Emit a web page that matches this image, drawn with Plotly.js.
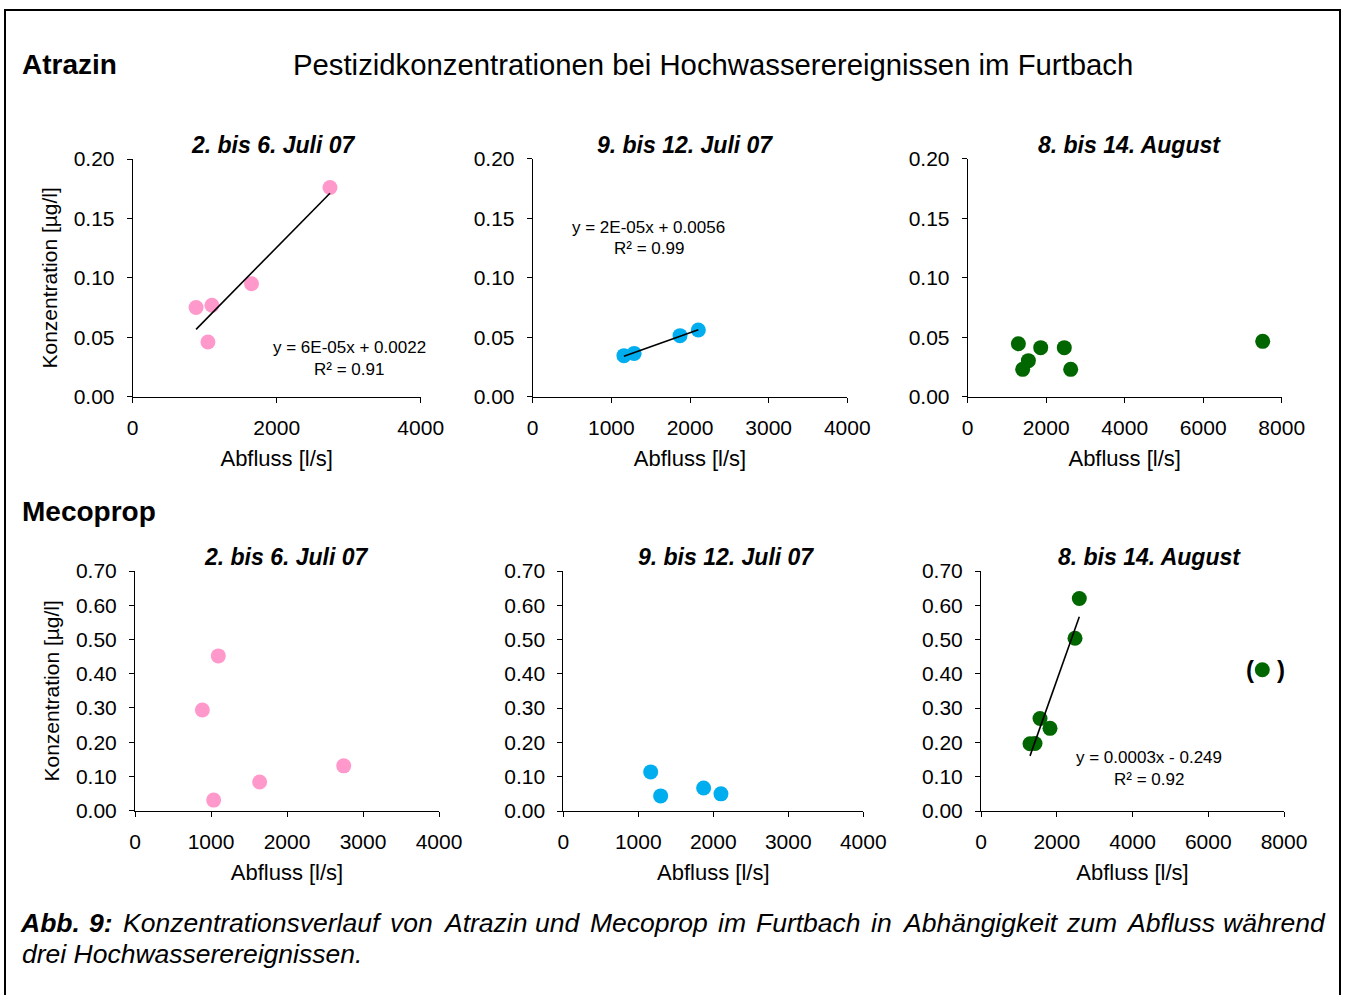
<!DOCTYPE html>
<html>
<head>
<meta charset="utf-8">
<script src="https://cdn.plot.ly/plotly-3.0.1.min.js"></script>
<style>html,body{margin:0;padding:0;background:#fff;}#chart{width:1347px;height:995px;}</style>
</head>
<body>
<div id="chart"></div>
<script>
// ---------- data ----------
const atrazinJul1Q = [880, 1100, 1045, 1650, 2740];
const atrazinJul1C = [0.075, 0.077, 0.046, 0.095, 0.176];
const atrazinJul2Q = [1160, 1290, 1873, 2106];
const atrazinJul2C = [0.0345, 0.0364, 0.0513, 0.056];
const atrazinAugQ = [1291, 1401, 1546, 1860, 2461, 2624, 7516];
const atrazinAugC = [0.0445, 0.023, 0.0303, 0.0412, 0.0412, 0.023, 0.0465];

const mecopropJul1Q = [886, 1096, 1035, 1640, 2746];
const mecopropJul1C = [0.294, 0.452, 0.031, 0.084, 0.131];
const mecopropJul2Q = [1165, 1298, 1871, 2102];
const mecopropJul2C = [0.114, 0.044, 0.067, 0.050];
const mecopropAugQ = [1294, 1426, 1558, 1822, 2482, 2596];
const mecopropAugC = [0.196, 0.197, 0.270, 0.241, 0.504, 0.620];
const mecopropAugOutlierQ = [7427];
const mecopropAugOutlierC = [0.412];

const eventTitles = ["2. bis 6. Juli 07", "9. bis 12. Juli 07", "8. bis 14. August"];
const substanceLabels = ["Atrazin", "Mecoprop"];
const mainTitle = "Pestizidkonzentrationen bei Hochwasserereignissen im Furtbach";
const xAxisTitle = "Abfluss [l/s]";
const yAxisTitle = "Konzentration [µg/l]";
const equations = {
  atrazinJul1: ["y = 6E-05x + 0.0022", "R² = 0.91"],
  atrazinJul2: ["y = 2E-05x + 0.0056", "R² = 0.99"],
  mecopropAug: ["y = 0.0003x - 0.249", "R² = 0.92"]
};
const captionWords1 = ["Abb.", "9:", "Konzentrationsverlauf", "von", "Atrazin", "und", "Mecoprop", "im", "Furtbach", "in", "Abhängigkeit", "zum", "Abfluss", "während"];
const captionLine2 = "drei Hochwasserereignissen.";

// ---------- styling ----------
const W = 1347, H = 995;
const FONT = "Liberation Sans, Arial, sans-serif";
const PINK = "#FF99CC", BLUE = "#00AEEF", GREEN = "#006600";

function px2x(p) { return p / W; }
function px2y(p) { return 1 - p / H; }

const panels = [
  {q: atrazinJul1Q, c: atrazinJul1C, color: PINK, box: [132.7, 159, 420.7, 396.7], xmax: 4000, dx: 2000, ymax: 0.2, dy: 0.05, fit: true, ytitle: true},
  {q: atrazinJul2Q, c: atrazinJul2C, color: BLUE, box: [532.7, 158.7, 847.3, 396.7], xmax: 4000, dx: 1000, ymax: 0.2, dy: 0.05, fit: true},
  {q: atrazinAugQ, c: atrazinAugC, color: GREEN, box: [967.7, 158.7, 1281.7, 396.7], xmax: 8000, dx: 2000, ymax: 0.2, dy: 0.05, fit: false},
  {q: mecopropJul1Q, c: mecopropJul1C, color: PINK, box: [135, 571, 439, 810.7], xmax: 4000, dx: 1000, ymax: 0.7, dy: 0.1, fit: false, ytitle: true},
  {q: mecopropJul2Q, c: mecopropJul2C, color: BLUE, box: [563.3, 571, 863.3, 811], xmax: 4000, dx: 1000, ymax: 0.7, dy: 0.1, fit: false},
  {q: mecopropAugQ, c: mecopropAugC, color: GREEN, box: [981, 571, 1284, 811], xmax: 8000, dx: 2000, ymax: 0.7, dy: 0.1, fit: true}
];

function linFit(x, y) {
  const n = x.length;
  const mx = x.reduce((a, b) => a + b, 0) / n;
  const my = y.reduce((a, b) => a + b, 0) / n;
  let sxy = 0, sxx = 0;
  for (let i = 0; i < n; i++) { sxy += (x[i] - mx) * (y[i] - my); sxx += (x[i] - mx) ** 2; }
  const b = sxy / sxx;
  return {b: b, a: my - b * mx};
}

const traces = [];
const layout = {
  width: W, height: H,
  margin: {l: 0, r: 0, t: 0, b: 0},
  paper_bgcolor: "#fff", plot_bgcolor: "#fff",
  showlegend: false,
  font: {family: FONT, color: "#000"},
  annotations: [], shapes: []
};

panels.forEach((p, i) => {
  const k = i + 1;
  const xa = "x" + (k === 1 ? "" : k), ya = "y" + (k === 1 ? "" : k);
  traces.push({
    type: "scatter", mode: "markers", x: p.q, y: p.c, xaxis: xa, yaxis: ya,
    marker: {size: 15, color: p.color, line: {width: 0}}, cliponaxis: false, hoverinfo: "x+y"
  });
  if (p.fit) {
    const f = linFit(p.q, p.c);
    const x0 = Math.min(...p.q), x1 = Math.max(...p.q);
    traces.push({
      type: "scatter", mode: "lines", x: [x0, x1], y: [f.a + f.b * x0, f.a + f.b * x1],
      xaxis: xa, yaxis: ya, line: {color: "#000", width: 1.6}, hoverinfo: "skip"
    });
  }
  const [l, t, r, b] = p.box;
  layout["xaxis" + (k === 1 ? "" : k)] = {
    domain: [px2x(l), px2x(r)], anchor: ya, range: [0, p.xmax], dtick: p.dx, tick0: 0,
    showline: true, linecolor: "#000", linewidth: 1, ticks: "outside", ticklen: 5, tickcolor: "#000",
    showgrid: false, zeroline: false, tickfont: {size: 21, family: FONT}, ticklabelstandoff: 7,
    title: {text: xAxisTitle, font: {size: 22, family: FONT}, standoff: 12}, automargin: false, fixedrange: true
  };
  layout["yaxis" + (k === 1 ? "" : k)] = {
    domain: [px2y(b), px2y(t)], anchor: xa, range: [0, p.ymax], dtick: p.dy, tick0: 0, tickformat: ".2f",
    showline: true, linecolor: "#000", linewidth: 1, ticks: "outside", ticklen: 5, tickcolor: "#000",
    showgrid: false, zeroline: false, tickfont: {size: 21, family: FONT}, ticklabelstandoff: 8,
    title: p.ytitle ? {text: yAxisTitle, font: {size: 21, family: FONT}, standoff: 10} : {text: ""},
    automargin: false, fixedrange: true
  };
});

// outlier in the August Mecoprop panel
traces.push({
  type: "scatter", mode: "markers", x: mecopropAugOutlierQ, y: mecopropAugOutlierC, xaxis: "x6", yaxis: "y6",
  marker: {size: 15, color: GREEN, line: {width: 0}}, cliponaxis: false, hoverinfo: "x+y"
});
layout.annotations.push(
  {xref: "x6", yref: "y6", x: mecopropAugOutlierQ[0], y: mecopropAugOutlierC[0], xshift: -12, text: "<b>(</b>", showarrow: false, font: {size: 24, family: FONT}},
  {xref: "x6", yref: "y6", x: mecopropAugOutlierQ[0], y: mecopropAugOutlierC[0], xshift: 19, text: "<b>)</b>", showarrow: false, font: {size: 24, family: FONT}}
);

// panel titles
const titlePos = [[273.7, 145], [685, 145], [1129, 145], [286.7, 557], [726, 557], [1149, 557]];
titlePos.forEach((tp, i) => {
  layout.annotations.push({xref: "paper", yref: "paper", x: px2x(tp[0]), y: px2y(tp[1]), xanchor: "center", yanchor: "middle",
    text: "<b><i>" + eventTitles[i % 3] + "</i></b>", showarrow: false, font: {size: 23, family: FONT}});
});

// equations
function eq(lines, cx, y1, y2) {
  layout.annotations.push(
    {xref: "paper", yref: "paper", x: px2x(cx), y: px2y(y1), xanchor: "center", yanchor: "middle", text: lines[0], showarrow: false, font: {size: 17, family: FONT}},
    {xref: "paper", yref: "paper", x: px2x(cx), y: px2y(y2), xanchor: "center", yanchor: "middle", text: lines[1], showarrow: false, font: {size: 17, family: FONT}}
  );
}
eq(equations.atrazinJul1, 349, 347, 369);
eq(equations.atrazinJul2, 648.5, 227, 249);
eq(equations.mecopropAug, 1148.5, 757, 779);

// main title and substance labels
layout.annotations.push(
  {xref: "paper", yref: "paper", x: px2x(712.5), y: px2y(65), xanchor: "center", yanchor: "middle", text: mainTitle, showarrow: false, font: {size: 29.3, family: FONT}},
  {xref: "paper", yref: "paper", x: px2x(20), y: px2y(65), xanchor: "left", yanchor: "middle", text: "<b>" + substanceLabels[0] + "</b>", showarrow: false, font: {size: 28, family: FONT}},
  {xref: "paper", yref: "paper", x: px2x(20), y: px2y(511), xanchor: "left", yanchor: "middle", text: "<b>" + substanceLabels[1] + "</b>", showarrow: false, font: {size: 28, family: FONT}}
);

// caption, line 1 justified between the frame margins
const capSize = 26.5;
const ctx = document.createElement("canvas").getContext("2d");
function measure(w, bold) {
  ctx.font = "italic " + (bold ? "bold " : "") + capSize + "px " + FONT;
  return ctx.measureText(w).width;
}
const capLeft = 22, capRight = 1327;
const widths = captionWords1.map((w, i) => measure(w, i < 2));
const gap = (capRight - capLeft - widths.reduce((a, b) => a + b, 0)) / (captionWords1.length - 1);
let cx = capLeft;
captionWords1.forEach((w, i) => {
  layout.annotations.push({xref: "paper", yref: "paper", x: px2x(cx - 2), y: px2y(923), xanchor: "left", yanchor: "middle",
    text: i < 2 ? "<b><i>" + w + "</i></b>" : "<i>" + w + "</i>", showarrow: false, borderpad: 0, borderwidth: 0,
    font: {size: capSize, family: FONT}});
  cx += widths[i] + gap;
});
layout.annotations.push({xref: "paper", yref: "paper", x: px2x(capLeft - 2), y: px2y(954), xanchor: "left", yanchor: "middle",
  text: "<i>" + captionLine2 + "</i>", showarrow: false, font: {size: capSize, family: FONT}});

// outer frame
layout.shapes.push({type: "rect", xref: "paper", yref: "paper", x0: px2x(5), x1: px2x(1340), y0: -0.02, y1: px2y(10),
  line: {color: "#000", width: 2}, fillcolor: "rgba(0,0,0,0)"});

Plotly.newPlot("chart", traces, layout, {displayModeBar: false});
</script>
</body>
</html>
